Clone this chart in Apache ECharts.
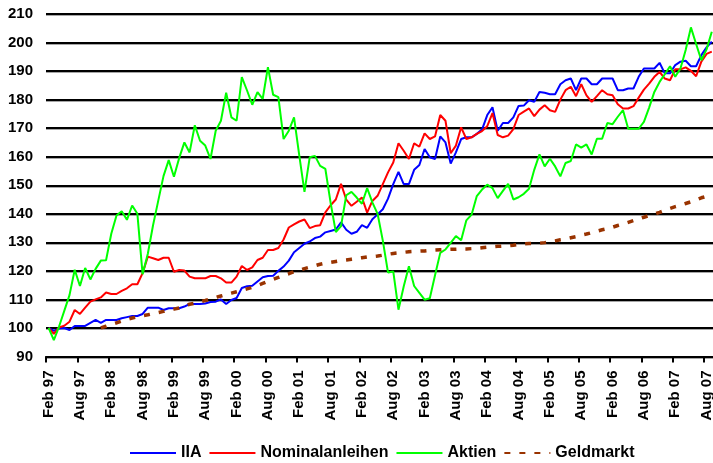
<!DOCTYPE html>
<html>
<head>
<meta charset="utf-8">
<script src="https://cdn.jsdelivr.net/npm/echarts@6/dist/echarts.min.js"></script>
<style>
  html, body { margin: 0; padding: 0; background: #fff; overflow: hidden; }
  #chart { width: 713px; height: 463px; }
</style>
</head>
<body>
<div id="chart"></div>
<script>
// Monate Feb 97 .. Sep 07
var monthNames = ["Jan", "Feb", "Mrz", "Apr", "Mai", "Jun", "Jul", "Aug", "Sep", "Okt", "Nov", "Dez"];
var firstYear = 1997;
var firstMonth = 1; // Feb
var monthCount = 128;

var iia = [
  100, 99, 99.8, 100, 99.3, 100.7, 100.7, 100.7, 101.8, 102.8,
  101.8, 102.8, 102.8, 102.8, 103.4, 103.8, 104.2, 104.2, 104.9, 107.1,
  107.1, 107.1, 106.3, 106.9, 106.9, 106.9, 107.5, 108.4, 108.4, 108.4,
  108.6, 109.1, 109.2, 110, 108.4, 109.8, 110.5, 114, 114.6, 114.8,
  116.3, 117.8, 118.2, 118.3, 120, 121.5, 123.6, 126.5, 128, 129.5,
  130.3, 131.5, 132, 133.5, 134, 134.5, 137, 134.4, 133, 133.7,
  136, 135.1, 138.1, 139.8, 141.6, 145.3, 150.4, 154.7, 150.4, 150.4,
  155.4, 157.1, 162.7, 159.8, 159.2, 167.1, 165, 157.6, 161.5, 166.2,
  166.8, 166.8, 168, 169.5, 174.6, 177.3, 169.1, 171.8, 171.8, 173.8,
  177.8, 177.9, 179.8, 179.2, 182.7, 182.4, 181.9, 181.9, 185.4, 186.8,
  187.4, 183.3, 187.4, 187.4, 185.4, 185.4, 187.4, 187.4, 187.4, 183.3,
  183.3, 183.9, 183.9, 188, 190.9, 190.9, 190.9, 192.9, 189.2, 189.2,
  192.1, 193.3, 193.6, 191.7, 191.7, 195.6, 198.3, 200.3
];

var nominal = [
  100, 97.9, 100.2, 100.8, 102.2, 106.3, 104.9, 107.1, 109.2, 110,
  110.7, 112.4, 111.9, 111.9, 113, 113.9, 115.3, 115.3, 119.2, 125,
  124.4, 123.8, 124.6, 124.6, 119.7, 120.3, 120.1, 118, 117.4, 117.4,
  117.4, 118.2, 118.2, 117.4, 115.9, 115.9, 118, 121.7, 120.3, 121.2,
  123.8, 124.6, 127.3, 127.3, 128, 131, 135.2, 136.3, 137.3, 138,
  135, 135.7, 136, 140.5, 143, 145, 150.5, 145, 142.8, 144.2,
  145.7, 140.4, 144.5, 146.3, 150.4, 154.5, 158, 164.7, 162.1, 159.2,
  164.7, 163.5, 168.2, 166.2, 167.1, 174.6, 172.6, 161.2, 163.9, 170.3,
  166.2, 166.8, 168, 169, 170.7, 175.3, 167.6, 166.8, 167.4, 169.7,
  174.6, 175.8, 176.9, 174.2, 176.5, 178, 176.3, 175.7, 180, 183.3,
  184.5, 181.2, 185.4, 181.5, 179.2, 181.2, 183.3, 181.9, 181.5, 178.4,
  176.9, 176.9, 177.7, 180.7, 183.5, 185.6, 188, 189.7, 187.4, 186.8,
  190.6, 190.6, 191.3, 190.1, 188.2, 193.3, 196, 196.8
];

var aktien = [
  100, 95.7, 100.5, 106, 111.5, 120.4, 114.7, 121, 117, 120.7,
  123.6, 123.7, 133, 139.4, 140.9, 137.9, 142.9, 140, 118.8, 126,
  136, 144.6, 153.2, 158.8, 153, 159.5, 165, 161.5, 171, 165.6,
  163.9, 159.2, 169.1, 172.6, 182.4, 173.8, 172.6, 187.9, 183.2, 178.2,
  182.6, 180.3, 191.4, 181.7, 180.9, 166.2, 169.1, 173.8, 160.5, 147.7,
  159.8, 160.3, 156.8, 155.7, 143.9, 133.6, 135.7, 146.5, 147.7, 145.7,
  143.5, 149, 144, 140, 130.6, 119.4, 119.8, 106.4, 114.5, 121.6,
  114.7, 112.3, 109.9, 110.4, 118.5, 126.3, 127.5, 129.8, 132.2, 130.7,
  137.7, 139.7, 146.2, 148.5, 150.2, 149, 145.5, 148, 150.5, 145,
  145.8, 147, 148.8, 155.4, 160.8, 156.6, 159.3, 156.6, 153.1, 157.8,
  158.5, 164.3, 163.2, 164.3, 160.8, 166.3, 166.3, 171.8, 171.4, 174,
  176.3, 169.8, 169.8, 169.8, 172.2, 177.2, 182.7, 186.2, 188.9, 191.7,
  188, 190.9, 197.4, 205.3, 199.5, 193.8, 197.6, 203.8
];

var geldmarkt = [
  null, null, null, null, null, null, null, null, null, null,
  100.0, 100.6, 101.2, 101.8, 102.4, 103.0, 103.5, 103.9, 104.3, 104.6,
  105.0, 105.4, 105.8, 106.2, 106.6, 107.0, 107.7, 108.3, 108.7, 109.2,
  109.6, 110.1, 110.7, 111.2, 111.7, 112.2, 112.7, 113.2, 113.7, 114.2,
  114.9, 115.6, 116.3, 117.0, 117.7, 118.4, 119.0, 119.7, 120.2, 120.8,
  121.3, 121.8, 122.3, 122.7, 123.0, 123.3, 123.6, 123.8, 124.1, 124.4,
  124.6, 124.9, 125.0, 125.2, 125.5, 125.8, 126.1, 126.3, 126.5, 126.7,
  126.8, 126.9, 127.0, 127.2, 127.3, 127.4, 127.5, 127.6, 127.6, 127.7,
  127.7, 127.8, 127.9, 128.1, 128.3, 128.4, 128.6, 128.7, 128.8, 129.0,
  129.3, 129.5, 129.6, 129.6, 129.7, 129.9, 130.2, 130.5, 130.9, 131.2,
  131.6, 132.0, 132.5, 132.9, 133.4, 133.9, 134.4, 134.8, 135.3, 135.9,
  136.4, 137.0, 137.6, 138.2, 138.8, 139.4, 139.9, 140.5, 141.2, 141.9,
  142.5, 143.0, 143.6, 144.2, 144.9, 145.6, 146.1, 146.5
];

var categories = [];
for (var i = 0; i < monthCount; i++) {
  var m = (firstMonth + i) % 12;
  var y = firstYear + Math.floor((firstMonth + i) / 12);
  categories.push(monthNames[m] + " " + String(y % 100).padStart(2, "0"));
}

var font = "'Liberation Sans', Arial, sans-serif";

var myChart = echarts.init(document.getElementById("chart"), null, { renderer: "canvas" });

var option = {
  backgroundColor: "#ffffff",
  animation: false,
  grid: {
    left: 46,
    top: 14,
    width: 668.4,
    height: 342.5,
    containLabel: false,
    outerBoundsMode: "none"
  },
  legend: {
    left: 124,
    top: 440,
    itemWidth: 46,
    itemHeight: 14,
    itemGap: 7,
    // nur die Linie im Legendensymbol, kein Punkt
    itemStyle: { opacity: 0 },
    lineStyle: { opacity: 1 },
    textStyle: {
      color: "#000",
      fontFamily: font,
      fontWeight: "bold",
      fontSize: 16
    },
    data: ["IIA", "Nominalanleihen", "Aktien", "Geldmarkt"]
  },
  xAxis: {
    type: "category",
    data: categories,
    boundaryGap: true,
    axisLine: {
      show: true,
      lineStyle: { color: "#000", width: 2 }
    },
    axisTick: {
      show: true,
      interval: 5,
      length: 6,
      alignWithLabel: false,
      lineStyle: { color: "#000", width: 2 }
    },
    axisLabel: {
      interval: 5,
      rotate: 90,
      margin: 14,
      color: "#000",
      fontFamily: font,
      fontWeight: "bold",
      fontSize: 15
    },
    splitLine: { show: false }
  },
  yAxis: {
    type: "value",
    min: 90,
    max: 210,
    interval: 10,
    axisLine: { show: false },
    axisTick: { show: false },
    axisLabel: {
      margin: 13,
      color: "#000",
      fontFamily: font,
      fontWeight: "bold",
      fontSize: 15
    },
    splitLine: {
      show: true,
      lineStyle: {
        color: "#000",
        width: 2,
        shadowColor: "rgba(0,0,0,0.35)",
        shadowOffsetY: 1,
        shadowBlur: 0
      }
    }
  },
  series: [
    {
      name: "IIA",
      type: "line",
      data: iia,
      symbol: "none",
      lineStyle: { color: "#0000ff", width: 2 },
      itemStyle: { color: "#0000ff" }
    },
    {
      name: "Nominalanleihen",
      type: "line",
      data: nominal,
      symbol: "none",
      lineStyle: { color: "#ff0000", width: 2 },
      itemStyle: { color: "#ff0000" }
    },
    {
      name: "Aktien",
      type: "line",
      data: aktien,
      symbol: "none",
      lineStyle: { color: "#00ff00", width: 2 },
      itemStyle: { color: "#00ff00" }
    },
    {
      name: "Geldmarkt",
      type: "line",
      data: geldmarkt,
      symbol: "none",
      lineStyle: { color: "#993300", width: 3.5, type: [6, 9] },
      itemStyle: { color: "#993300" }
    }
  ]
};

myChart.setOption(option);
</script>
</body>
</html>
